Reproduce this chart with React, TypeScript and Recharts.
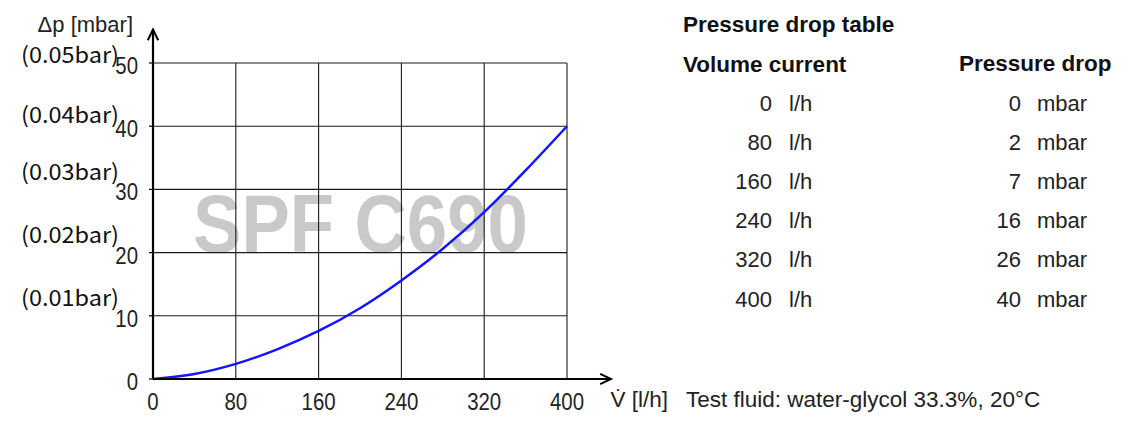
import React from 'react';
import { LineChart, Line, XAxis, YAxis, CartesianGrid, ReferenceLine } from 'recharts';

// curve
const curveFlow = [0, 40, 80, 120, 160, 200, 240, 280, 320, 360, 400];
const curveDrop = [0, 0.8, 2.4, 4.7, 7.6, 11.2, 15.6, 20.6, 26.4, 33, 40];

// pressure drop table
const tableFlow = [0, 80, 160, 240, 320, 400];
const tableDrop = [0, 2, 7, 16, 26, 40];

const xTicks = [0, 80, 160, 240, 320, 400];
const yTicks = [0, 10, 20, 30, 40, 50];
const barLabels = ['', '(0.01bar)', '(0.02bar)', '(0.03bar)', '(0.04bar)', '(0.05bar)'];

const curveData = curveFlow.map((flow, i) => ({ flow, drop: curveDrop[i] }));

const W = 1145;
const H = 423;
const SANS = '"Liberation Sans", Arial, sans-serif';
const CJK = '"Noto Sans CJK SC", "Noto Sans", sans-serif';

// small vertical nudges of the bar labels relative to their tick
const barNudge: Record<number, number> = { 50: 0, 40: -3, 30: -9, 20: -10, 10: -10 };

const YTick = (props: any) => {
  const { x, y, payload } = props;
  const v = payload.value;
  const label = barLabels[yTicks.indexOf(v)];
  return (
    <g>
      <text
        transform={`translate(${x},${y + 11}) scale(0.85,1)`}
        textAnchor="end"
        fontFamily={SANS}
        fontSize={24}
        fill="#222"
      >
        {v}
      </text>
      {label ? (
        <text
          x={21}
          y={y + (barNudge[v] ?? -6)}
          textLength={98}
          lengthAdjust="spacingAndGlyphs"
          fontFamily={CJK}
          fontSize={22}
          fill="#111"
        >
          {label}
        </text>
      ) : null}
    </g>
  );
};

const XTick = (props: any) => {
  const { x, y, payload } = props;
  return (
    <text
      transform={`translate(${x},${y + 31}) scale(0.85,1)`}
      textAnchor="middle"
      fontFamily={SANS}
      fontSize={24}
      fill="#222"
    >
      {payload.value}
    </text>
  );
};

const ArrowLine = (props: any) => {
  const { x1, y1, x2, y2 } = props;
  const ang = Math.atan2(y2 - y1, x2 - x1);
  const len = 12;
  const spread = 0.45;
  const ax = x2 - len * Math.cos(ang - spread);
  const ay = y2 - len * Math.sin(ang - spread);
  const bx = x2 - len * Math.cos(ang + spread);
  const by = y2 - len * Math.sin(ang + spread);
  return (
    <g>
      <line x1={x1} y1={y1} x2={x2} y2={y2} stroke="#000" strokeWidth={2.2} />
      <path d={`M${ax},${ay} L${x2},${y2} L${bx},${by}`} fill="none" stroke="#000" strokeWidth={2} />
    </g>
  );
};

const App: React.FC = () => {
  const rowY0 = 111;
  const rowStep = 39.1;
  return (
    <div style={{ position: 'absolute', left: 0, top: 0, width: W, height: H, background: '#fff' }}>
      <svg width={W} height={H} style={{ position: 'absolute', left: 0, top: 0 }}>
        <text
          x={193}
          y={252}
          textLength={335}
          lengthAdjust="spacingAndGlyphs"
          fontFamily={SANS}
          fontWeight="bold"
          fontSize={82}
          fill="#c9c9c9"
        >
          SPF C690
        </text>

        <text x={133} y={32} textAnchor="end" fontFamily={SANS} fontSize={22} fill="#222">
          Δp [mbar]
        </text>

        <text x={683} y={32} fontFamily={SANS} fontWeight="bold" fontSize={22.5} fill="#111">
          Pressure drop table
        </text>
        <text x={683} y={71.5} fontFamily={SANS} fontWeight="bold" fontSize={22.5} fill="#111">
          Volume current
        </text>
        <text x={959} y={70.5} fontFamily={SANS} fontWeight="bold" fontSize={22.5} fill="#111">
          Pressure drop
        </text>
        {tableFlow.map((f, i) => (
          <g key={f} fontFamily={SANS} fontSize={22} fill="#222">
            <text x={772} y={rowY0 + i * rowStep} textAnchor="end">{f}</text>
            <text x={789} y={rowY0 + i * rowStep}>l/h</text>
            <text x={1021} y={rowY0 + i * rowStep} textAnchor="end">{tableDrop[i]}</text>
            <text x={1037} y={rowY0 + i * rowStep}>mbar</text>
          </g>
        ))}

        <text x={610.5} y={407} fontFamily={SANS} fontSize={22.5} fill="#222">
          V̇ [l/h]
        </text>
        <text x={686} y={407} fontFamily={SANS} fontSize={22.5} fill="#222">
          Test fluid: water-glycol 33.3%, 20°C
        </text>
      </svg>

      <div style={{ position: 'absolute', left: 0, top: 0 }}>
        <LineChart
          width={W}
          height={H}
          data={curveData}
          margin={{ top: 63, right: 578, bottom: 4, left: 53 }}
        >
          <CartesianGrid stroke="#1a1a1a" strokeWidth={1.1} />
          <XAxis
            dataKey="flow"
            type="number"
            domain={[0, 400]}
            ticks={xTicks}
            height={40}
            axisLine={false}
            tickLine={false}
            tickSize={0}
            tickMargin={0}
            tick={<XTick />}
            interval={0}
          />
          <YAxis
            type="number"
            domain={[0, 50]}
            ticks={yTicks}
            width={100}
            axisLine={false}
            tickLine={{ stroke: '#000', strokeWidth: 1.2 }}
            tickSize={4}
            tickMargin={11}
            tick={<YTick />}
            interval={0}
          />
          <Line
            type="monotone"
            dataKey="drop"
            stroke="#1414ff"
            strokeWidth={2.5}
            dot={false}
            isAnimationActive={false}
          />
          <ReferenceLine
            segment={[{ x: 0, y: 0 }, { x: 0, y: 55.3 }]}
            ifOverflow="visible"
            shape={ArrowLine}
          />
          <ReferenceLine
            segment={[{ x: 0, y: 0 }, { x: 442.5, y: 0 }]}
            ifOverflow="visible"
            shape={ArrowLine}
          />
        </LineChart>
      </div>
    </div>
  );
};

export default App;
